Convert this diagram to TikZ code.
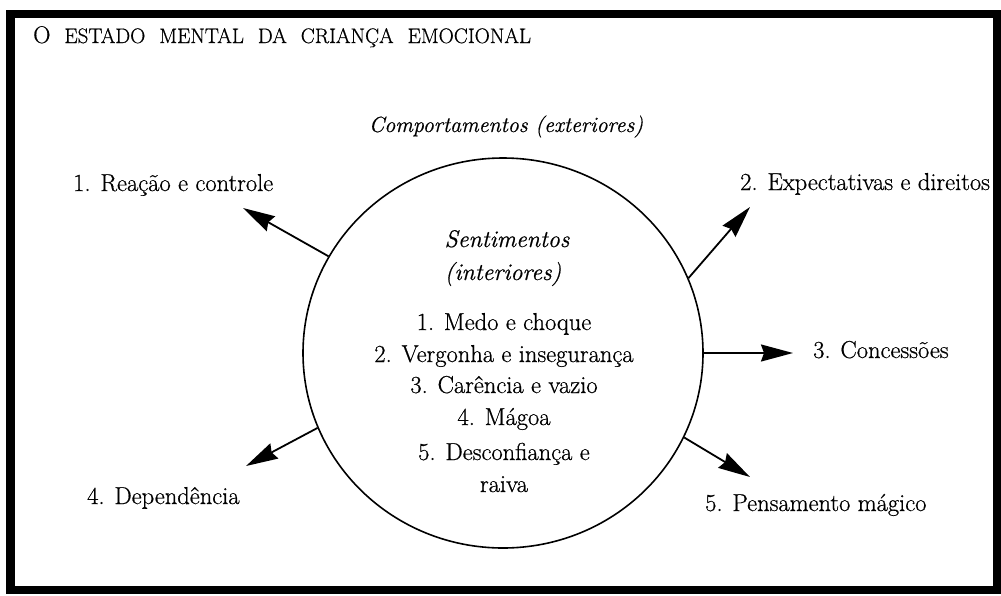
\documentclass[tikz,border=0pt]{standalone}
\usepackage{fontspec}
\setmainfont{Latin Modern Roman}[FakeBold=0.6]
\usetikzlibrary{arrows.meta,shapes.geometric}
\newcommand\mytitlefont{\fontsize{21}{24}\selectfont\spaceskip=14pt\relax}
\begin{document}
\begin{tikzpicture}[x=1pt,y=-1pt,
  lbl/.style={font=\fontsize{24.5}{28}\selectfont, inner sep=0pt, anchor=base west},
  inner/.style={font=\fontsize{24.5}{28}\selectfont, inner sep=0pt, anchor=base},
  inneri/.style={font=\fontsize{24}{28}\selectfont\itshape, inner sep=0pt, anchor=base},
  arr/.style={line width=1.8pt, -{Stealth[length=32pt,width=17pt,inset=3pt]}},
]
\useasboundingbox (0,0) rectangle (1001,595);
\fill[white] (0,0) rectangle (1001,595);
\draw[line width=8.5pt] (10.5,14) rectangle (997,590);
\node[anchor=base west, inner sep=0pt] (title) at (33,43) {\mytitlefont{\fontsize{24}{26}\selectfont O}\hspace{14pt}ESTADO MENTAL DA CRIANÇA EMOCIONAL};

\node[inneri, font=\fontsize{22}{26}\selectfont\itshape] (comp) at (506,132) {Comportamentos (exteriores)};

\node[ellipse, draw, line width=1.6pt, minimum width=400pt, minimum height=390pt, inner sep=0pt] (c) at (503,353) {};

\node[inneri] (sent) at (507,247) {Sentimentos};
\node[inneri] (inte) at (503,280) {(interiores)};
\node[inner] (s1) at (504,330) {1. Medo e choque};
\node[inner] (s2) at (504,362) {2. Vergonha e insegurança};
\node[inner] (s3) at (504,393) {3. Carência e vazio};
\node[inner] (s4) at (504,425) {4. Mágoa};
\node[inner] (s5) at (504,460) {5. Desconfiança e};
\node[inner] (s6) at (504,492) {raiva};

\node[lbl] (b1) at (73,191) {1. Reação e controle};
\node[lbl] (b2) at (740,190) {2. Expectativas e direitos};
\node[lbl] (b3) at (813,358) {3. Concessões};
\node[lbl] (b4) at (87,504) {4. Dependência};
\node[lbl] (b5) at (705,511) {5. Pensamento mágico};

\coordinate (t1) at (243,208);
\coordinate (t2) at (750,207);
\coordinate (t3) at (793,353);
\coordinate (t4) at (246,466);
\coordinate (t5) at (750,477);

\draw[arr] (c.151) -- (t1);
\draw[arr] (c.22) -- (t2);
\draw[arr] (c.0) -- (t3);
\draw[arr] (c.202) -- (t4);
\draw[arr] (c.-25) -- (t5);
\end{tikzpicture}
\end{document}
